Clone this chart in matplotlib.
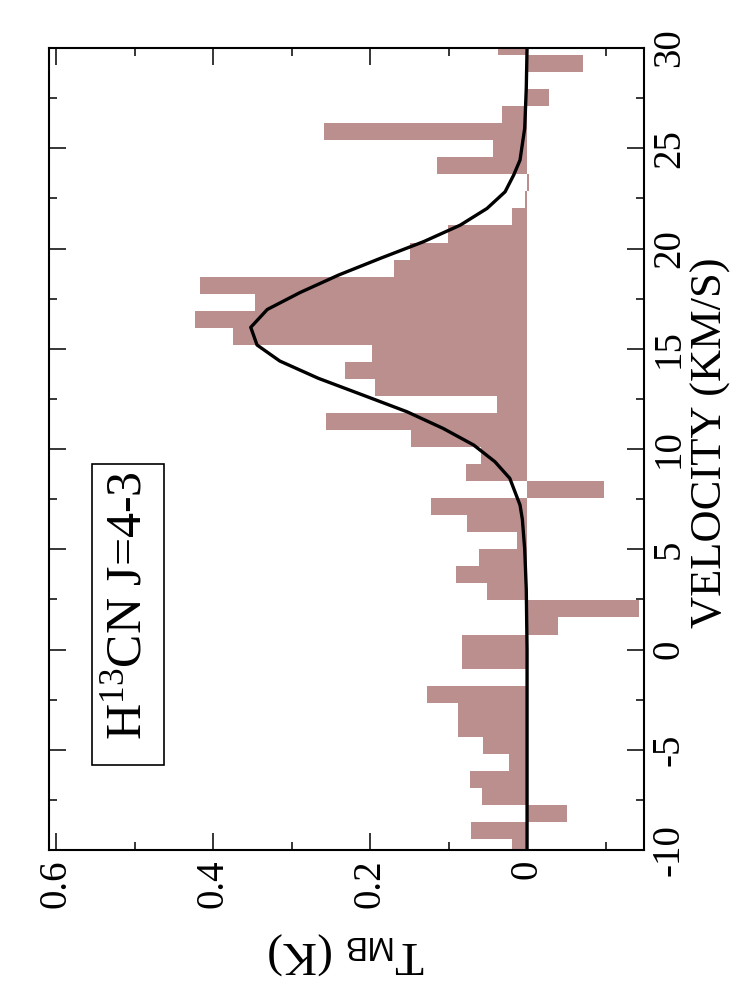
import numpy as np
import matplotlib
matplotlib.use("Agg")
from matplotlib import pyplot as plt
from matplotlib.patches import Rectangle

plt.rcParams['font.family'] = ['Liberation Serif', 'DejaVu Serif']
plt.rcParams['mathtext.fontset'] = 'custom'
plt.rcParams['mathtext.rm'] = 'Liberation Serif'
plt.rcParams['mathtext.sf'] = 'Liberation Sans'
plt.rcParams['mathtext.it'] = 'Liberation Serif:italic'

# spectrum channels (km/s) and main-beam temperature (K)
vel = [-9.875, -9.025, -8.175, -7.325, -6.475, -5.625, -4.775, -3.925,
       -3.075, -2.225, -1.375, -0.525, 0.325, 1.175, 2.025, 2.875,
       3.725, 4.575, 5.425, 6.275, 7.125, 7.975, 8.825, 9.675,
       10.525, 11.375, 12.225, 13.075, 13.925, 14.775, 15.625, 16.475,
       17.325, 18.175, 19.025, 19.875, 20.725, 21.575, 22.425, 23.275,
       24.125, 24.975, 25.825, 26.675, 27.525, 28.375, 29.225, 30.075]
tmb = [0.019, 0.071, -0.051, 0.058, 0.073, 0.023, 0.056, 0.088,
       0.088, 0.128, 0.0, 0.083, 0.083, -0.040, -0.142, 0.051,
       0.090, 0.061, 0.013, 0.076, 0.122, -0.098, 0.078, 0.059,
       0.148, 0.256, 0.038, 0.194, 0.232, 0.197, 0.374, 0.423,
       0.346, 0.417, 0.169, 0.149, 0.101, 0.019, 0.003, -0.002,
       0.115, 0.043, 0.259, 0.032, -0.028, 0.0, -0.071, 0.037]
chan_width = 0.85

# gaussian fit
fit_v = [-10, 0, 3, 5, 6.5, 7.21, 8.54, 9.37, 10.2, 11.03, 11.86, 12.69,
         13.53, 14.39, 15.19, 16.07, 16.96, 17.81, 18.68, 19.51, 20.34,
         21.17, 22.0, 22.83, 23.67, 24.41, 26, 28, 30]
fit_t = [0.0, 0.0, 0.001, 0.003, 0.006, 0.009, 0.022, 0.041, 0.068, 0.107,
         0.153, 0.209, 0.266, 0.315, 0.344, 0.352, 0.331, 0.289, 0.24,
         0.187, 0.132, 0.085, 0.051, 0.028, 0.017, 0.009, 0.003, 0.001, 0.0]

t_ticks = [0, 0.2, 0.4, 0.6]
t_labels = ['0', '0.2', '0.4', '0.6']
v_ticks = [-10, -5, 0, 5, 10, 15, 20, 25, 30]
v_labels = ['-10', '-5', '0', '5', '10', '15', '20', '25', '30']

fig = plt.figure(figsize=(7.46, 10.01), dpi=100)
ax = fig.add_axes([0.0657, 0.1508, 0.7976, 0.8012])

ax.barh(vel, tmb, height=chan_width, color='#bc8f8f', linewidth=0, zorder=2)
ax.plot(fit_t, fit_v, color='black', lw=2.4, zorder=3)

ax.set_xlim(0.609, -0.149)
ax.set_ylim(-10, 30)

ax.set_xticks(t_ticks)
ax.set_xticklabels(t_labels, rotation=90)
ax.set_xticks([-0.1, 0.1, 0.3, 0.5], minor=True)
ax.set_yticks(v_ticks)
ax.set_yticklabels(v_labels, rotation=90, va='center')
ax.set_yticks([-7.5, -2.5, 2.5, 7.5, 12.5, 17.5, 22.5, 27.5], minor=True)

ax.tick_params(axis='both', which='both', direction='in', top=True,
               right=True, width=1.1)
ax.tick_params(which='major', length=12)
ax.tick_params(which='minor', length=6)
ax.tick_params(axis='x', labelsize=28, pad=7)
ax.tick_params(axis='y', labelleft=False, labelright=True, labelsize=28, pad=5)
for s in ax.spines.values():
    s.set_linewidth(1.5)

# legend box
ax.add_patch(Rectangle((0.072, 0.106), 0.121, 0.375, transform=ax.transAxes,
                       fill=False, lw=1.2, color='black', zorder=4))
ax.text(0.134, 0.3055, r'H$^{13}$CN J=4-3', transform=ax.transAxes,
        rotation=90, ha='center', va='center', fontsize=36, zorder=5)

fig.text(711/746, 1 - 443/1001, 'VELOCITY (KM/S)', rotation=90,
         ha='center', va='center', fontsize=32)
fig.text(346/746, 1 - 953/1001, r'T$_{\mathsf{MB}}$ (K)', rotation=180,
         ha='center', va='center', fontsize=34)

fig.savefig('out.png', dpi=100)
